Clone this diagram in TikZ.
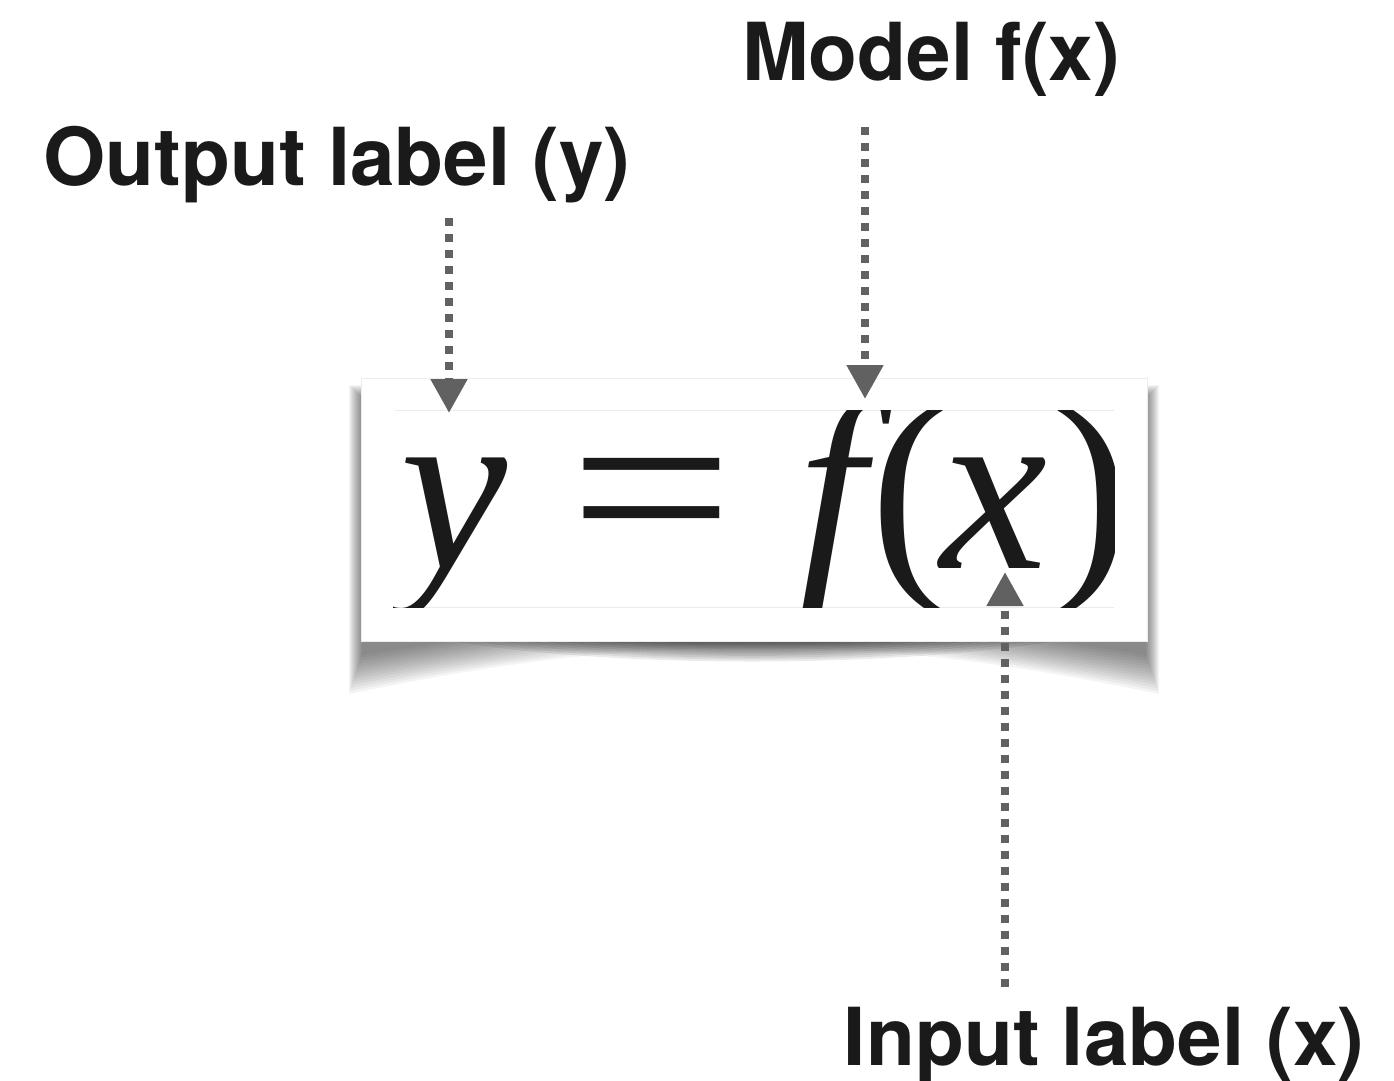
\documentclass[tikz,border=0pt]{standalone}
\usepackage{fontspec}
\newfontfamily\labelfont{TeX Gyre Heros}
\newfontfamily\eqfont{Liberation Serif}
\usetikzlibrary{arrows.meta}
\definecolor{ptrgray}{HTML}{616161}
\definecolor{inkblack}{HTML}{1A1A1A}

\begin{document}
\begin{tikzpicture}[x=1pt,y=-1pt,
  tag/.style={font=\labelfont\bfseries\fontsize{80}{82}\selectfont, text=inkblack, anchor=base, inner sep=0pt},
  glyph/.style={font=\eqfont\fontsize{241}{250}\selectfont, text=inkblack, anchor=base west, inner sep=0pt},
  pointer/.style={ptrgray, line width=8pt, dash pattern=on 8pt off 8pt, -{Triangle[length=34pt, width=35pt]}}]
\useasboundingbox (0,0) rectangle (1394,1080);
\foreach \i in {0,...,13} {
  \fill[black, opacity=0.045] ({362-\i},{398-\i}) -- ({362-\i},{655+3*\i})
    .. controls (520,{630+2.2*\i}) and (620,{620+2.2*\i}) .. (754,{620+2.2*\i})
    .. controls (888,{620+2.2*\i}) and (988,{630+2.2*\i}) .. ({1146+\i},{655+3*\i})
    -- ({1146+\i},{398-\i}) -- cycle;
}
\foreach \i in {0,...,9} {
  \fill[black, opacity=0.08] ({400+25*\i},630) .. controls (560,{672-2.5*\i}) and (940,{672-2.5*\i}) .. ({1110-25*\i},630) -- cycle;
}
\filldraw[fill=white, draw=black!7] (361,378) rectangle (1147,641);
\draw[black!8] (395,410) -- (1114,410);
\draw[black!8] (395,607) -- (1114,607);
\begin{scope}
\clip (393,410) rectangle (1114,607);
\node[glyph] (eqy) at (400,568) {\itshape y};
\node[glyph] (eqeq) at (569,568) {\scalebox{1.21}[1]{=}};
\node[glyph] (eqf) at (798,568) {\itshape f};
\node[glyph] (eqlp) at (870,568) {(};
\node[glyph] (eqx) at (940,568) {\itshape x};
\node[glyph] (eqrp) at (1050,568) {)};
\end{scope}
\node[tag] (out) at (337,185) {Output label (y)};
\node[tag] (model) at (931,80) {Model f(x)};
\node[tag] (in) at (1104,1065) {Input label (x)};
\coordinate (outstart) at (449,218);
\coordinate (outtip) at (449,413);
\coordinate (modelstart) at (865,127);
\coordinate (modeltip) at (865,399);
\coordinate (instart) at (1005,987);
\coordinate (intip) at (1005,572);
\draw[pointer] (outstart) -- (outtip);
\draw[pointer] (modelstart) -- (modeltip);
\draw[pointer] (instart) -- (intip);
\end{tikzpicture}
\end{document}
